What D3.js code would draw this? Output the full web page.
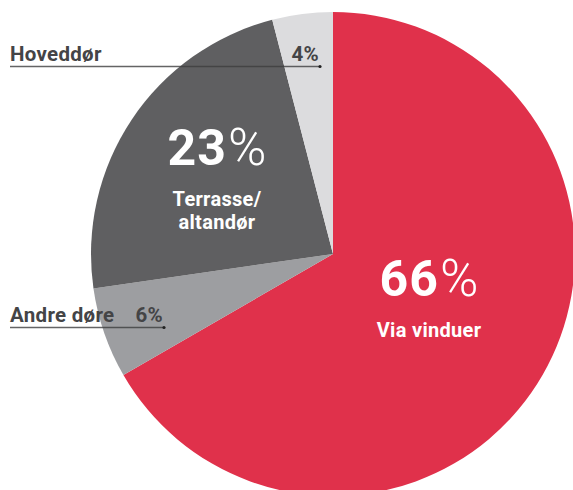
<!DOCTYPE html>
<html>
<head>
<meta charset="utf-8">
<script src="https://cdn.jsdelivr.net/npm/d3@7"></script>
<style>
  html, body { margin: 0; padding: 0; background: #fff; }
  svg { display: block; }
</style>
</head>
<body>
<div id="chart"></div>
<script>
// data
const categories = ["Via vinduer", "Andre døre", "Terrasse/altandør", "Hoveddør"];
const values = [66, 6, 23, 4];
const colors = ["#e0314b", "#9d9ea1", "#5f5f61", "#dcdcde"];

const width = 573, height = 490;
const cx = 333, cy = 254, radius = 242;

const svg = d3.select("#chart").append("svg")
    .attr("width", width)
    .attr("height", height)
    .style("font-family", "Roboto, 'DejaVu Sans', sans-serif");

const pie = d3.pie().sort(null).value(d => d.value);
const arc = d3.arc().innerRadius(0).outerRadius(radius);

const slices = pie(categories.map((c, i) => ({ name: c, value: values[i], color: colors[i] })));

const g = svg.append("g").attr("transform", `translate(${cx},${cy})`);

g.selectAll("path")
    .data(slices)
    .enter()
    .append("path")
    .attr("d", arc)
    .attr("fill", d => d.data.color);

// store etiketter inde i skiverne
function bigLabel(x, y, value, lines) {
    const t = svg.append("text")
        .attr("x", x)
        .attr("y", y)
        .attr("text-anchor", "middle")
        .attr("fill", "#fff")
        .style("font-size", "50px");
    t.append("tspan").style("font-weight", "700").style("letter-spacing", "1px").text(value);
    t.append("tspan").attr("dx", 1).style("font-weight", "300").style("font-size", "52px").text("%");
    lines.forEach((l, i) => {
        svg.append("text")
            .attr("x", x)
            .attr("y", y + 41 + i * 23)
            .attr("text-anchor", "middle")
            .attr("fill", "#fff")
            .style("font-size", "20px")
            .style("font-weight", "700")
            .style("letter-spacing", "0.3px")
            .text(l);
    });
}
bigLabel(217, 165, values[2], ["Terrasse/", "altandør"]);
bigLabel(429, 296, values[0], ["Via vinduer"]);

// små etiketter med linje
function sideLabel(name, value, y, x2) {
    svg.append("line")
        .attr("x1", 10).attr("x2", x2)
        .attr("y1", y).attr("y2", y)
        .attr("stroke", "#3d3d3f")
        .attr("stroke-opacity", 0.8)
        .attr("stroke-width", 1.5);
    svg.append("circle")
        .attr("cx", x2).attr("cy", y).attr("r", 1.6)
        .attr("fill", "#222");
    svg.append("text")
        .attr("x", 10).attr("y", y - 6)
        .attr("fill", "#444446")
        .style("font-size", "20.5px")
        .style("font-weight", "700")
        .style("letter-spacing", "0.3px")
        .text(name);
    svg.append("text")
        .attr("x", x2 - 1).attr("y", y - 6)
        .attr("text-anchor", "end")
        .attr("fill", "#444446")
        .style("font-size", "20.5px")
        .style("font-weight", "700")
        .style("letter-spacing", "0.3px")
        .text(value + "%");
}
sideLabel(categories[3], values[3], 66.5, 320);
sideLabel(categories[1], values[1], 327.5, 164);
</script>
</body>
</html>
